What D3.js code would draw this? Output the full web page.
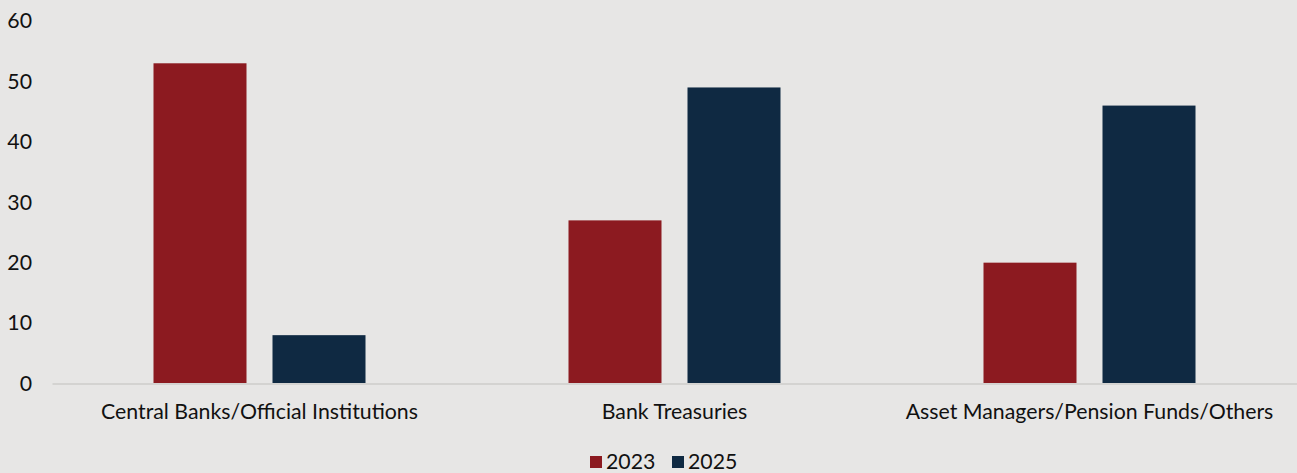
<!DOCTYPE html>
<html>
<head>
<meta charset="utf-8">
<script src="https://cdn.jsdelivr.net/npm/d3@7"></script>
<style>
  html, body { margin: 0; padding: 0; background: #e7e6e5; }
  svg { display: block; font-family: Lato, "Open Sans", sans-serif; }
</style>
</head>
<body>
<svg id="chart" width="1297" height="473"></svg>
<script>
// Holder categories and survey shares (%) for each year
const categories = ["Central Banks/Official Institutions", "Bank Treasuries", "Asset Managers/Pension Funds/Others"];
const seriesNames = ["2023", "2025"];
const values2023 = [53, 27, 20];
const values2025 = [8, 49, 46];
const yTicks = [0, 10, 20, 30, 40, 50, 60];

const colors = { "2023": "#8c1a20", "2025": "#0f2942" };
const FONT = 21.3;

const svg = d3.select("#chart");
const W = 1297, H = 473;
const margin = { left: 52, right: 0, top: 21, bottom: 89.5 };

const x = d3.scaleBand()
  .domain(categories)
  .range([margin.left, W - margin.right])
  .paddingInner(0).paddingOuter(0);

// Two bars of ~93px with a 26px gap inside each category
const groupWidth = 212;
const x1 = d3.scaleBand()
  .domain(seriesNames)
  .range([0, groupWidth])
  .paddingInner(26 / 119)
  .paddingOuter(0);

const y = d3.scaleLinear()
  .domain([0, 60])
  .range([H - margin.bottom, margin.top]);

// Y axis labels (no line, no ticks)
const yAxis = d3.axisLeft(y).tickValues(yTicks).tickSize(0).tickPadding(0);
const gy = svg.append("g").attr("transform", `translate(32,0)`).call(yAxis);
gy.select(".domain").remove();
gy.selectAll("text")
  .attr("font-size", FONT)
  .attr("fill", "#111")
  .style("font-family", "Lato, sans-serif");

// Bars
const rows = categories.map((c, i) => ({ category: c, "2023": values2023[i], "2025": values2025[i] }));
const groups = svg.append("g").selectAll("g")
  .data(rows)
  .join("g")
  .attr("transform", d => `translate(${x(d.category) + (x.bandwidth() - groupWidth) / 2},0)`);

groups.selectAll("rect")
  .data(d => seriesNames.map(s => ({ s, v: d[s] })))
  .join("rect")
  .attr("x", d => x1(d.s))
  .attr("width", x1.bandwidth())
  .attr("y", d => y(d.v))
  .attr("height", d => y(0) - y(d.v))
  .attr("fill", d => colors[d.s]);

// X axis baseline and category labels
const xAxis = d3.axisBottom(x).tickSize(0).tickPadding(0);
const gx = svg.append("g").attr("transform", `translate(0,${y(0)})`).call(xAxis);
gx.select(".domain").attr("stroke", "#d4d3d1").attr("stroke-width", 2);
gx.selectAll("text")
  .attr("dy", null)
  .attr("y", 35)
  .attr("font-size", FONT)
  .attr("fill", "#111")
  .style("font-family", "Lato, sans-serif");

// Legend
const legend = svg.append("g").attr("transform", "translate(0,462)");
const legendItems = [
  { name: "2023", x: 590 },
  { name: "2025", x: 672 }
];
legendItems.forEach(it => {
  legend.append("rect")
    .attr("x", it.x).attr("y", -6)
    .attr("width", 12).attr("height", 12)
    .attr("fill", colors[it.name]);
  legend.append("text")
    .attr("x", it.x + 16).attr("y", 0)
    .attr("dy", "0.35em")
    .attr("font-size", FONT)
    .attr("fill", "#111")
    .text(it.name);
});
</script>
</body>
</html>
